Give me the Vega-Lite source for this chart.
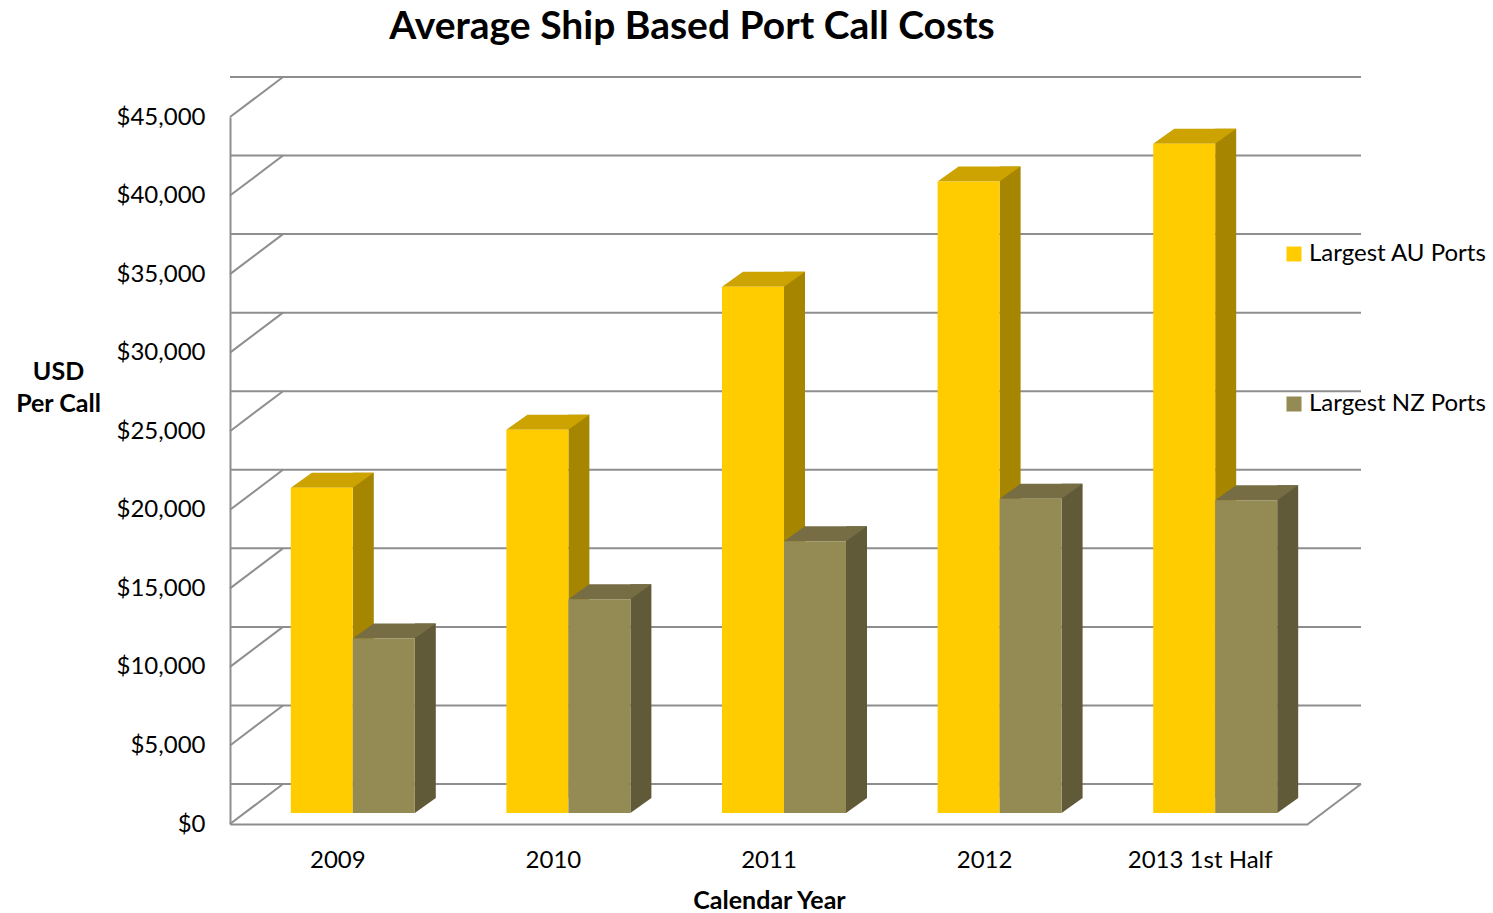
{
  "$schema": "https://vega.github.io/schema/vega-lite/v6.json",
  "width": 1078,
  "height": 707,
  "autosize": {"type": "none"},
  "padding": {"left": 230, "top": 117, "right": 185, "bottom": 89},
  "background": "white",
  "config": {
    "font": "Lato",
    "view": {"stroke": null},
    "axis": {
      "grid": false,
      "ticks": false,
      "tickSize": 0,
      "domainColor": "#8e8e8e",
      "domainWidth": 2,
      "labelFont": "Lato",
      "labelFontSize": 24,
      "labelColor": "#000000",
      "titleFont": "Lato",
      "titleFontWeight": "bold",
      "titleFontSize": 25,
      "titleColor": "#000000"
    }
  },
  "title": {
    "text": "Average Ship Based Port Call Costs",
    "font": "Lato",
    "fontSize": 39,
    "fontWeight": "bold",
    "color": "#000000",
    "anchor": "middle",
    "frame": "group",
    "dx": -77,
    "dy": 9,
    "offset": 7,
    "baseline": "alphabetic"
  },
  "datasets": {
    "costs": [
      {"year": "2009", "series": "Largest AU Ports", "cost": 20700},
      {"year": "2010", "series": "Largest AU Ports", "cost": 24400},
      {"year": "2011", "series": "Largest AU Ports", "cost": 33500},
      {"year": "2012", "series": "Largest AU Ports", "cost": 40200},
      {"year": "2013 1st Half", "series": "Largest AU Ports", "cost": 42600},
      {"year": "2009", "series": "Largest NZ Ports", "cost": 11100},
      {"year": "2010", "series": "Largest NZ Ports", "cost": 13600},
      {"year": "2011", "series": "Largest NZ Ports", "cost": 17300},
      {"year": "2012", "series": "Largest NZ Ports", "cost": 20000},
      {"year": "2013 1st Half", "series": "Largest NZ Ports", "cost": 19900}
    ],
    "grid": [
      {"v": 0}, {"v": 5000}, {"v": 10000}, {"v": 15000}, {"v": 20000},
      {"v": 25000}, {"v": 30000}, {"v": 35000}, {"v": 40000}, {"v": 45000}
    ],
    "floor": [{"v": 0}]
  },
  "layer": [
    {
      "data": {"name": "grid"},
      "mark": {"type": "rule", "color": "#8e8e8e", "strokeWidth": 2, "xOffset": 53, "x2Offset": 53, "yOffset": -40},
      "encoding": {
        "y": {
          "field": "v",
          "type": "quantitative",
          "scale": {"domain": [0, 45000], "nice": false, "zero": true},
          "axis": {
            "title": ["USD", "Per Call"],
            "values": [0, 5000, 10000, 15000, 20000, 25000, 30000, 35000, 40000, 45000],
            "format": "$,.0f",
            "labelPadding": 25,
            "titleAngle": 0,
            "titleAlign": "center",
            "titleBaseline": "alphabetic",
            "titleX": -172,
            "titleY": 262,
            "titleLineHeight": 32
          }
        }
      }
    },
    {
      "data": {"name": "grid"},
      "mark": {"type": "rule", "color": "#8e8e8e", "strokeWidth": 2, "x2Offset": 53, "y2Offset": -40},
      "encoding": {
        "x": {"datum": "2009", "type": "nominal", "bandPosition": 0, "scale": {"domain": ["2009", "2010", "2011", "2012", "2013 1st Half"], "paddingInner": 0, "paddingOuter": 0}},
        "x2": {"datum": "2009", "bandPosition": 0},
        "y": {"field": "v", "type": "quantitative"},
        "y2": {"field": "v"}
      }
    },
    {
      "data": {"name": "floor"},
      "mark": {"type": "rule", "color": "#8e8e8e", "strokeWidth": 2, "x2Offset": 53, "y2Offset": -40},
      "encoding": {
        "x": {"datum": "2013 1st Half", "type": "nominal", "bandPosition": 1},
        "x2": {"datum": "2013 1st Half", "bandPosition": 1},
        "y": {"field": "v", "type": "quantitative"},
        "y2": {"field": "v"}
      }
    },
    {
      "data": {"name": "costs"},
      "transform": [{"filter": "datum.series === 'Largest AU Ports'"}],
      "mark": {"type": "bar", "width": 21, "xOffset": 25.5, "yOffset": -26, "y2Offset": -26, "color": "#A68500"},
      "encoding": {
        "x": {"field": "year", "type": "nominal", "sort": null},
        "y": {"field": "cost", "type": "quantitative"}
      }
    },
    {
      "data": {"name": "costs"},
      "transform": [{"filter": "datum.series === 'Largest NZ Ports'"}],
      "mark": {"type": "bar", "width": 21, "xOffset": 87.5, "yOffset": -26, "y2Offset": -26, "color": "#615A39"},
      "encoding": {
        "x": {"field": "year", "type": "nominal", "sort": null},
        "y": {"field": "cost", "type": "quantitative"}
      }
    },
    {
      "data": {"name": "costs"},
      "transform": [{"filter": "datum.series === 'Largest NZ Ports'"}],
      "mark": {"type": "point", "shape": "M0,0L0,-0.7143L1,-0.7143Z", "size": 1764, "filled": true, "opacity": 1, "strokeWidth": 0, "xOffset": 77, "yOffset": -11, "color": "#615A39"},
      "encoding": {
        "x": {"field": "year", "type": "nominal", "sort": null},
        "y": {"datum": 0, "type": "quantitative"}
      }
    },
    {
      "data": {"name": "costs"},
      "transform": [{"filter": "datum.series === 'Largest AU Ports'"}],
      "mark": {"type": "point", "shape": "M-0.5962,0L0.5962,0L1,-0.2885L-0.1923,-0.2885Z", "size": 10816, "filled": true, "opacity": 1, "strokeWidth": 0, "xOffset": -16, "yOffset": -11, "color": "#CCA300"},
      "encoding": {
        "x": {"field": "year", "type": "nominal", "sort": null},
        "y": {"field": "cost", "type": "quantitative"}
      }
    },
    {
      "data": {"name": "costs"},
      "transform": [{"filter": "datum.series === 'Largest NZ Ports'"}],
      "mark": {"type": "point", "shape": "M-0.5962,0L0.5962,0L1,-0.2885L-0.1923,-0.2885Z", "size": 10816, "filled": true, "opacity": 1, "strokeWidth": 0, "xOffset": 46, "yOffset": -11, "color": "#766D44"},
      "encoding": {
        "x": {"field": "year", "type": "nominal", "sort": null},
        "y": {"field": "cost", "type": "quantitative"}
      }
    },
    {
      "data": {"name": "costs"},
      "transform": [{"filter": "datum.series === 'Largest AU Ports'"}],
      "mark": {"type": "bar", "width": 62, "xOffset": -16, "yOffset": -11, "y2Offset": -11},
      "encoding": {
        "x": {
          "field": "year",
          "type": "nominal",
          "sort": null,
          "scale": {"domain": ["2009", "2010", "2011", "2012", "2013 1st Half"], "paddingInner": 0, "paddingOuter": 0},
          "axis": {
            "title": "Calendar Year",
            "labelAngle": 0,
            "labelAlign": "center",
            "labelFontSize": 24,
            "labelPadding": 43,
            "labelBaseline": "alphabetic",
            "titleX": 539,
            "titleY": 84,
            "titleAlign": "center",
            "titleBaseline": "alphabetic"
          }
        },
        "y": {"field": "cost", "type": "quantitative"},
        "color": {
          "field": "series",
          "type": "nominal",
          "scale": {"domain": ["Largest AU Ports", "Largest NZ Ports"], "range": ["#FFCC00", "#948A54"]},
          "legend": {
            "title": null,
            "orient": "none",
            "legendX": 1052,
            "legendY": 125,
            "padding": 0,
            "symbolType": "square",
            "symbolSize": 225,
            "symbolStrokeWidth": 0,
            "labelFont": "Lato",
            "labelFontSize": 24,
            "labelColor": "#000000",
            "labelOffset": 3,
            "labelLimit": 400,
            "rowPadding": 126
          }
        }
      }
    },
    {
      "data": {"name": "costs"},
      "transform": [{"filter": "datum.series === 'Largest NZ Ports'"}],
      "mark": {"type": "bar", "width": 62, "xOffset": 46, "yOffset": -11, "y2Offset": -11},
      "encoding": {
        "x": {"field": "year", "type": "nominal", "sort": null},
        "y": {"field": "cost", "type": "quantitative"},
        "color": {"field": "series", "type": "nominal"}
      }
    }
  ]
}
